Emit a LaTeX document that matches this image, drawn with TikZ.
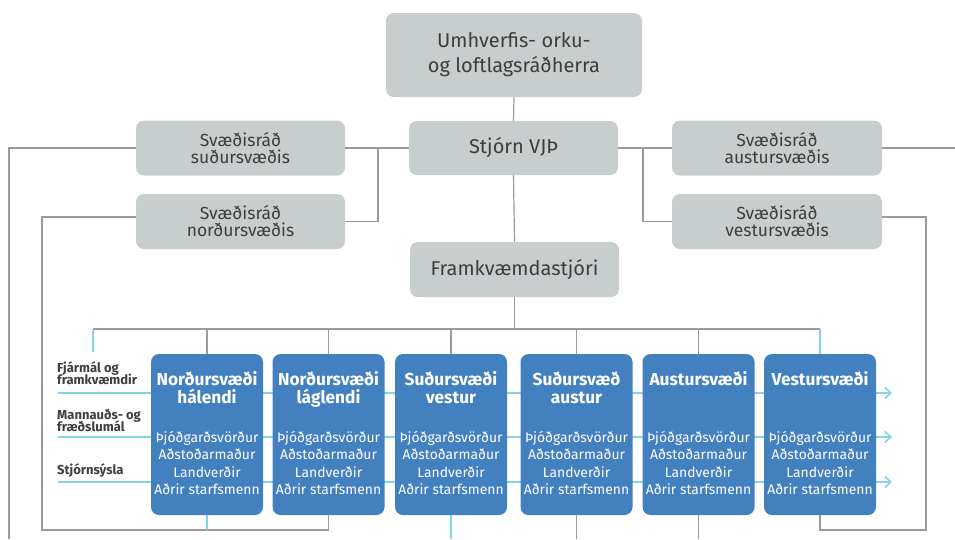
\documentclass[tikz,border=0pt]{standalone}
\usepackage{fontspec}
\setmainfont{Fira Sans}
\usetikzlibrary{arrows.meta,calc}
\definecolor{boxgray}{HTML}{C8CDCD}
\definecolor{txtgray}{HTML}{3E3E3E}
\definecolor{linegray}{HTML}{9B9B9B}
\definecolor{tealline}{HTML}{86D2E6}
\definecolor{bluebox}{HTML}{4380BF}
\begin{document}
\begin{tikzpicture}[x=1pt,y=-1pt,
  gbox/.style={rectangle, rounded corners=8pt, fill=boxgray, text=txtgray, align=center, inner sep=0pt},
  bbox/.style={rectangle, rounded corners=8pt, fill=bluebox, minimum width=112pt, minimum height=161pt, inner sep=0pt},
  gline/.style={draw=linegray, line width=1.2pt},
  tline/.style={draw=tealline, line width=1.6pt},
  ttl/.style={text=white, font=\fontsize{17.3}{18}\selectfont\bfseries, anchor=base, inner sep=0pt},
  bdy/.style={text=white, font=\fontsize{13.9}{17}\selectfont, anchor=base, inner sep=0pt},
  lab/.style={text=txtgray, font=\fontsize{13}{13}\selectfont\bfseries, anchor=base west, inner sep=0pt},
  small/.style={font=\fontsize{17.5}{17}\selectfont, minimum width=209pt, minimum height=55pt},
]
\useasboundingbox (0,0) rectangle (955,539);

% teal horizontal lines (behind the boxes)
\coordinate (t1s) at (58,393);  \coordinate (t1e) at (892,393);
\coordinate (t2s) at (58,437);  \coordinate (t2e) at (892,437);
\coordinate (t3s) at (58,482);  \coordinate (t3e) at (892,482);
\foreach \s/\e in {t1s/t1e,t2s/t2e,t3s/t3e}
  \draw[tline, -{Straight Barb[length=6pt,width=11pt]}] (\s) -- (\e);

% gray boxes
\node[gbox, minimum width=256pt, minimum height=84pt, font=\fontsize{20}{25}\selectfont] (min) at (514,55) {Umhverfis- orku-\\og loftlagsráðherra};
\node[gbox, minimum width=209pt, minimum height=54pt, font=\fontsize{20}{24}\selectfont] (stj) at (513.5,148) {Stjórn VJÞ};
\node[gbox, minimum width=209pt, minimum height=55pt, font=\fontsize{20}{24}\selectfont] (fr) at (514.5,269.5) {Framkvæmdastjóri};
\node[gbox, small] (sud) at (240.5,148) {Svæðisráð\\suðursvæðis};
\node[gbox, small] (nor) at (240.5,221.5) {Svæðisráð\\norðursvæðis};
\node[gbox, small, minimum width=210pt] (aus) at (777,148) {Svæðisráð\\austursvæðis};
\node[gbox, small, minimum width=210pt] (ves) at (777,221.5) {Svæðisráð\\vestursvæðis};

% blue boxes
\foreach \nm/\x in {b1/207,b2/328.5,b3/451,b4/576.5,b5/698.5,b6/820} {
  \node[bbox] (\nm) at (\x,434.5) {};
  \node[bdy] (\nm-1) at (\x,442) {Þjóðgarðsvörður};
  \node[bdy] (\nm-2) at (\x,459.5) {Aðstoðarmaður};
  \node[bdy] (\nm-3) at (\x,477) {Landverðir};
  \node[bdy] (\nm-4) at (\x,494.5) {Aðrir starfsmenn};
}
\foreach \nm/\x/\la/\lb in {b1/207/Norðursvæði/hálendi,b2/328.5/Norðursvæði/láglendi,b3/451/Suðursvæði/vestur,b4/576.5/Suðursvæð/austur} {
  \node[ttl] (\nm-ta) at (\x,385) {\la};
  \node[ttl] (\nm-tb) at (\x,403) {\lb};
}
\node[ttl] (b5-ta) at (698.5,385) {Austursvæði};
\node[ttl] (b6-ta) at (820,385) {Vestursvæði};

% left labels
\node[lab] (l1a) at (57,372) {Fjármál og};
\node[lab] (l1b) at (57,384.5) {framkvæmdir};
\node[lab] (l2a) at (57,419) {Mannauðs- og};
\node[lab] (l2b) at (57,431.5) {fræðslumál};
\node[lab] (l3) at (57,474) {Stjórnsýsla};

% top connectors
\draw[gline] (min.south) -- (stj.north);
\draw[gline] (stj.south) -- (fr.north);
\draw[gline] (sud.east) -- (stj.west);
\coordinate (jL) at (378,148);
\draw[gline] (nor.east) -| (jL);
\draw[gline] (stj.east) -- (aus.west);
\coordinate (jR) at (643,148);
\draw[gline] (ves.west) -| (jR);
\coordinate (eL) at (9,539);
\draw[gline] (sud.west) -| (eL);
\coordinate (eR) at (955,148);
\draw[gline] (aus.east) -- (eR);

% bus
\coordinate (busL) at (93,329);
\coordinate (busR) at (820,329);
\coordinate (tick) at (93,352);
\draw[gline] (fr.south) -- (fr.south |- busL);
\draw[gline] (busL) -- (busR);
\draw[tline] (busL) -- (tick);
\draw[tline] (busR) -- (b6.north);
\foreach \nm in {b1,b2,b3,b4,b5}
  \draw[gline] (\nm.north) -- (\nm.north |- busL);

% bottom
\coordinate (loopL) at (42,530);
\coordinate (loopR) at (926,530);
\coordinate (e3) at (451,539);
\draw[gline] ([yshift=4.5pt]nor.west) -| (loopL) -| (b2.south);
\draw[gline] ([yshift=4.5pt]ves.east) -| (loopR) -| (b6.south);
\draw[tline] (b1.south) -- (b1.south |- loopL);
\draw[tline] (b3.south) -- (e3);
\draw[gline] (b4.south) -- (b4.south |- e3);
\draw[gline] (b5.south) -- (b5.south |- e3);
\end{tikzpicture}
\end{document}
